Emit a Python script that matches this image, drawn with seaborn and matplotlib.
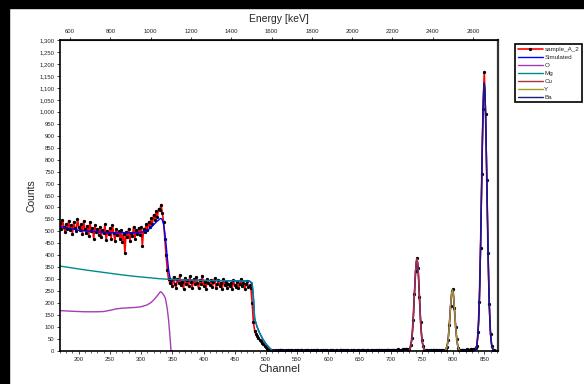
import numpy as np
import seaborn as sns
import matplotlib.pyplot as plt
from matplotlib.patches import Rectangle
from matplotlib.ticker import MultipleLocator, StrMethodFormatter

# channels of the measured spectrum (every 2nd channel)
channel = np.arange(170, 872, 2)

counts = [
    # 170 - 328
    535, 510, 548, 520, 498, 530, 512, 545, 505, 528, 490, 540, 515, 500, 552, 520,
    505, 530, 488, 545, 510, 495, 522, 480, 540, 500, 515, 470, 525, 498, 510, 485,
    520, 478, 505, 492, 530, 465, 500, 488, 515, 470, 525, 495, 460, 510, 485, 500,
    470, 505, 455, 490, 410, 498, 475, 512, 460, 495, 480, 520, 470, 505, 490, 515,
    485, 520, 440, 510, 498, 530, 505, 540, 520, 555, 530, 570, 548, 585, 560, 595,
    # 330 - 346
    590, 612, 575, 540, 470, 400, 340, 300, 285,
    # 348 - 476
    295, 270, 310, 280, 265, 300, 285, 318, 275, 290, 260, 305, 282, 295, 270, 312,
    288, 265, 300, 278, 310, 285, 262, 296, 280, 315, 272, 290, 258, 302, 284, 276,
    298, 268, 288, 305, 262, 280, 295, 270, 285, 258, 300, 276, 290, 265, 282, 272,
    286, 260, 295, 275, 268, 290, 262, 280, 300, 270, 284, 258, 278, 292, 266, 275, 262,
    # 478 - 510
    200, 120, 85, 70, 62, 55, 48, 42, 35, 28, 22, 16, 10, 6, 3, 2, 1,
    # 512 - 726
    3, 2, 5, 1, 4, 3, 6, 2, 3, 1, 4, 2, 5, 3, 2, 4,
    2, 5, 1, 3, 4, 2, 6, 3, 1, 4, 2, 3, 5, 2, 4, 1,
    3, 4, 2, 6, 3, 1, 5, 2, 4, 3, 2, 5, 1, 3, 4, 2,
    5, 2, 3, 4, 1, 3, 6, 2, 4, 3, 2, 5, 3, 1, 4, 2,
    3, 5, 2, 4, 1, 3, 2, 6, 3, 4, 2, 5, 3, 2, 4, 3,
    2, 4, 3, 5, 2, 6, 3, 4, 2, 5, 3, 4, 6, 3, 5, 4,
    5, 3, 6, 4, 7, 5, 4, 6, 8, 9, 8, 10,
    # 728 - 756 (Cu)
    3, 8, 25, 55, 130, 240, 335, 388, 345, 225, 120, 48, 20, 6, 3,
    # 758 - 784
    4, 2, 5, 3, 2, 4, 6, 3, 5, 2, 4, 3, 5, 4,
    # 786 - 812 (Y)
    2, 6, 18, 45, 110, 190, 250, 258, 180, 100, 50, 14, 5, 3,
    # 814 - 836
    4, 6, 3, 5, 7, 4, 6, 8, 5, 9, 7, 12,
    # 838 - 870 (Ba)
    22, 80, 205, 430, 740, 1010, 1165, 990, 715, 410, 195, 70, 20,
    6, 3, 2, 1,
]

# O and Mg components
o_ch = [170, 190, 210, 230, 240, 250, 260, 270, 290, 300, 310, 316, 320, 324, 328,
        331, 333, 336, 339, 342, 344, 346, 348, 352]
o_val = [169, 166, 164, 164, 165, 170, 176, 179, 182, 185, 193, 203, 213, 225, 238,
         248, 245, 235, 220, 175, 130, 70, 0, 0]

mg_ch = [170, 190, 210, 230, 250, 270, 290, 310, 330, 350, 370, 400, 430, 460, 474,
         478, 480, 482, 486, 490, 495, 500, 505, 510, 520]
mg_val = [355, 347, 339, 332, 325, 318, 312, 307, 302, 299, 297, 295, 294, 293, 292,
          285, 230, 135, 100, 75, 50, 30, 15, 2, 0]

# Cu, Y, Ba peaks
cu_ch = list(range(728, 757))
cu_val = [1, 2, 4, 9, 17, 31, 52, 83, 125, 176, 233, 291, 340, 373, 385,
          373, 340, 291, 233, 176, 125, 83, 52, 31, 17, 9, 4, 2, 1]
y_ch = list(range(786, 813))
y_val = [1, 2, 4, 8, 15, 28, 47, 73, 107, 147, 187, 222, 246, 255,
         246, 222, 187, 147, 107, 73, 47, 28, 15, 8, 4, 2, 1]
ba_ch = list(range(835, 866))
ba_val = [2, 5, 12, 23, 43, 75, 125, 198, 298, 423, 570, 727, 878, 1005, 1090, 1120,
          1090, 1005, 878, 727, 570, 423, 298, 198, 125, 75, 43, 23, 12, 5, 2]

# simulated spectrum (low energy part, peaks are the same as the components)
sim_low_ch = [170, 180, 190, 200, 210, 220, 230, 240, 250, 260, 270, 280, 290, 300,
              306, 310, 314, 318, 322, 326, 330, 332, 334, 336, 338, 340, 342, 344,
              346, 348, 350, 370, 400, 430, 460, 474, 478, 480, 482, 486, 490, 495,
              500, 505, 510, 520, 727]
sim_low_val = [520, 515, 510, 505, 502, 500, 498, 496, 494, 494, 495, 495, 494, 496,
               500, 505, 512, 522, 533, 543, 552, 554, 548, 530, 495, 445, 390, 340,
               310, 298, 297, 297, 295, 294, 293, 292, 280, 220, 135, 100, 75, 50,
               30, 15, 3, 1, 1]
sim_ch = sim_low_ch + cu_ch + [757, 785] + y_ch + [813, 834] + ba_ch + [866, 872]
sim_val = sim_low_val + cu_val + [1, 1] + y_val + [1, 1] + ba_val + [1, 1]

e_ticks = np.arange(600, 2700, 200)


def ch2e(c):
    return 3.096 * np.asarray(c) + 24


def e2ch(e):
    return (np.asarray(e) - 24) / 3.096


sns.set_style('ticks')
plt.rcParams['font.family'] = ['Liberation Sans', 'DejaVu Sans']

fig = plt.figure(figsize=(5.84, 3.84), dpi=100)
ax = fig.add_axes([60 / 584, 1 - 351 / 384, 438 / 584, 311 / 384])

sns.lineplot(x=channel, y=counts, ax=ax, color='red', lw=1.2, marker='o', ms=1.6,
             mfc='black', mec='black', label='sample_A_2', errorbar=None)
sns.lineplot(x=sim_ch, y=sim_val, ax=ax, color='#0000ff', lw=1.0, label='Simulated',
             errorbar=None)
sns.lineplot(x=o_ch, y=o_val, ax=ax, color='#a83cb8', lw=1.0, label='O', errorbar=None)
sns.lineplot(x=mg_ch, y=mg_val, ax=ax, color='#008b8b', lw=1.0, label='Mg', errorbar=None)
sns.lineplot(x=cu_ch, y=cu_val, ax=ax, color='#a03a3a', lw=1.0, label='Cu', errorbar=None)
sns.lineplot(x=y_ch, y=y_val, ax=ax, color='#a0a020', lw=1.0, label='Y', errorbar=None)
sns.lineplot(x=ba_ch, y=ba_val, ax=ax, color='#1c1c80', lw=1.0, label='Ba', errorbar=None)

ax.set_xlim(170, 872)
ax.set_ylim(0, 1300)
ax.xaxis.set_major_locator(MultipleLocator(50))
ax.xaxis.set_minor_locator(MultipleLocator(10))
ax.yaxis.set_major_locator(MultipleLocator(50))
ax.yaxis.set_major_formatter(StrMethodFormatter('{x:,.0f}'))
ax.tick_params(axis='both', which='major', labelsize=4.3, length=2.5, width=0.6,
               pad=1.5, colors='#222222')
ax.tick_params(axis='x', which='minor', length=1.5, width=0.5)
ax.set_xlabel('Channel', fontsize=8, labelpad=2)
ax.set_ylabel('Counts', fontsize=7.5, labelpad=2)

for side in ['left', 'bottom', 'top']:
    ax.spines[side].set_linewidth(1.2)
    ax.spines[side].set_color('black')
ax.spines['right'].set_linewidth(1.6)
ax.spines['right'].set_color('#333333')

sec = ax.secondary_xaxis('top', functions=(ch2e, e2ch))
sec.set_xticks(e_ticks)
sec.tick_params(labelsize=4.3, length=2.5, width=0.6, pad=1.5, colors='#222222')
sec.set_xlabel('Energy [keV]', fontsize=7.5, labelpad=5)

ax.legend(loc='upper left', bbox_to_anchor=(515 / 584, 1 - 44 / 384),
          bbox_transform=fig.transFigure, fontsize=4.5, frameon=True, fancybox=False,
          edgecolor='black', framealpha=1, borderpad=0.4, labelspacing=0.42,
          handlelength=4.0, handletextpad=0.3, borderaxespad=0, numpoints=1)
ax.get_legend().get_frame().set_linewidth(1.2)

# black borders at top and left
fig.patches.append(Rectangle((0, 1 - 8 / 384), 1, 8 / 384, transform=fig.transFigure,
                             color='black', zorder=10))
fig.patches.append(Rectangle((0, 0), 9 / 584, 1, transform=fig.transFigure,
                             color='black', zorder=10))

fig.savefig('out.png', dpi=100, facecolor='white')
